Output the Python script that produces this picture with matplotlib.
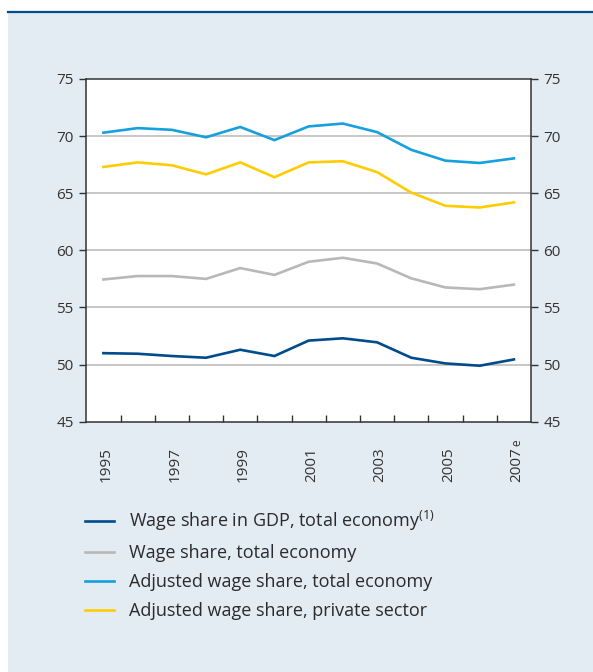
import matplotlib
matplotlib.use("Agg")
import matplotlib.pyplot as plt
from matplotlib.patches import Rectangle
from matplotlib.lines import Line2D
from matplotlib.transforms import blended_transform_factory, offset_copy

plt.rcParams["font.family"] = ["Open Sans", "DejaVu Sans"]

# =========================
# data
# =========================

years = ["1995", "1996", "1997", "1998", "1999", "2000", "2001",
         "2002", "2003", "2004", "2005", "2006", "2007"]

wage_gdp = [51.0, 50.95, 50.75, 50.6, 51.3, 50.75, 52.1,
            52.3, 51.95, 50.6, 50.1, 49.9, 50.45]
wage_total = [57.45, 57.75, 57.75, 57.5, 58.45, 57.85, 59.0,
              59.35, 58.85, 57.55, 56.75, 56.6, 57.0]
adj_total = [70.3, 70.7, 70.55, 69.9, 70.8, 69.65, 70.85,
             71.1, 70.35, 68.8, 67.85, 67.65, 68.05]
adj_private = [67.3, 67.7, 67.45, 66.65, 67.7, 66.4, 67.7,
               67.8, 66.85, 65.05, 63.9, 63.75, 64.2]

series_labels = [
    r"Wage share in GDP, total economy$^{\mathregular{(1)}}$",
    "Wage share, total economy",
    "Adjusted wage share, total economy",
    "Adjusted wage share, private sector",
]
series_colors = ["#004b8d", "#b8b8b8", "#16a0dd", "#ffcc00"]

y_ticks = [45, 50, 55, 60, 65, 70, 75]

# =========================
# figure + panel background
# =========================

fig = plt.figure(figsize=(5.93, 6.72), dpi=100)
fig.patches.append(Rectangle((8 / 593, 0), 1, (672 - 12.5) / 672,
                             transform=fig.transFigure, facecolor="#e3ebf3",
                             edgecolor="none", zorder=-5))
fig.lines.append(Line2D([8 / 593, 1], [(672 - 11.8) / 672] * 2,
                        transform=fig.transFigure, color="#004b8d", lw=1.6,
                        zorder=-4))

ax = fig.add_axes([86.3 / 593, (672 - 421.7) / 672, 444.7 / 593, 342.7 / 672])
ax.set_facecolor("white")

x = list(range(len(years)))
for vals, lab, col in zip([wage_gdp, wage_total, adj_total, adj_private],
                          series_labels, series_colors):
    ax.plot(x, vals, color=col, lw=1.9, label=lab, zorder=3,
            solid_joinstyle="miter")

ax.set_xlim(-0.5, len(years) - 0.5)
ax.set_ylim(45, 75)
ax.set_yticks(y_ticks)
for v in y_ticks[1:-1]:
    ax.axhline(v, color="#bdbdbd", lw=1.2, zorder=1)

# ticks between the years, inward
ax.set_xticks([i + 0.5 for i in x[:-1]])
ax.set_xticklabels([])
ax.tick_params(axis="x", direction="in", length=5, width=1.0, color="#333333")
ax.tick_params(axis="y", direction="out", length=5, width=1.0, color="#333333",
               labelsize=11, labelcolor="#333333", pad=4,
               left=True, right=True, labelleft=True, labelright=True)

for s in ax.spines.values():
    s.set_color("#333333")
    s.set_linewidth(1.1)

# year labels every other year, vertical, starting below the axis
trans = blended_transform_factory(ax.transData, ax.transAxes)
trans = offset_copy(trans, fig=fig, x=3, y=-60, units="dots")
for i, yr in enumerate(years):
    if i % 2 == 0:
        ax.text(i, 0, yr, transform=trans, rotation=90, ha="center",
                va="bottom", fontsize=11, color="#333333")
ax.text(len(years) - 1, 0, "e", transform=offset_copy(trans, fig=fig, y=36, x=0, units="dots"),
        rotation=90, ha="center", va="bottom", fontsize=8.5, color="#333333")

# =========================
# legend
# =========================

leg = fig.legend(loc="upper left", bbox_to_anchor=(78 / 593, (672 - 502) / 672),
                 frameon=False, fontsize=13, handlelength=1.6,
                 handletextpad=0.85, labelspacing=0.6, borderaxespad=0)
for t in leg.get_texts():
    t.set_color("#2b2b2b")

fig.savefig("out.png", dpi=100, facecolor="white")
